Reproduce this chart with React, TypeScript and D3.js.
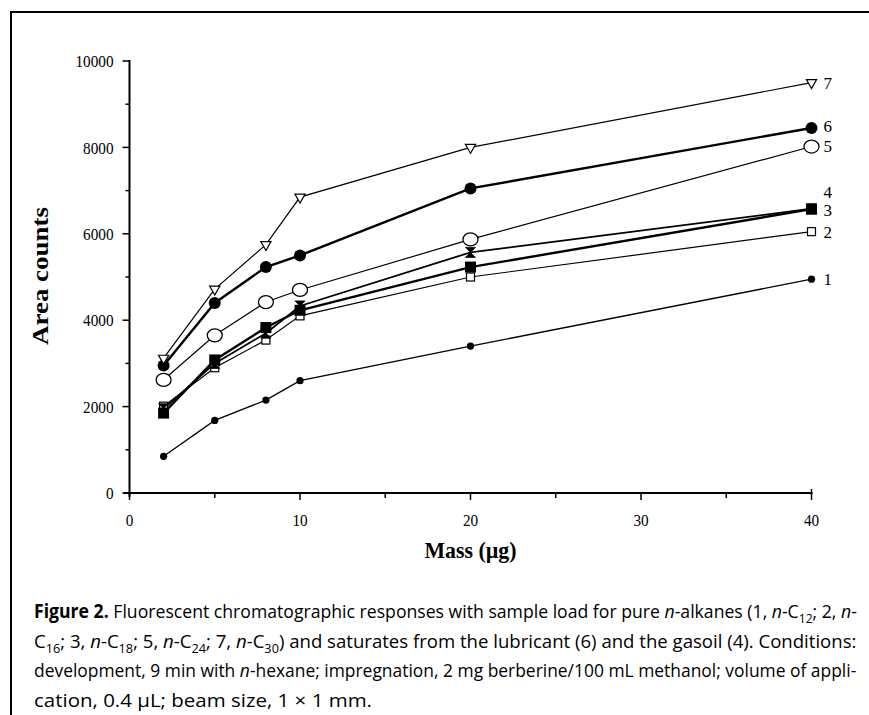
import { useLayoutEffect, useRef, useState } from "react";
import * as d3 from "d3";

// sample load (µg)
const masses = [2, 5, 8, 10, 20, 40];

// area counts per series
const c12 = [850, 1680, 2150, 2600, 3400, 4950];
const c16 = [2010, 2900, 3540, 4100, 5000, 6050];
const c18 = [1850, 3080, 3830, 4230, 5230, 6570];
const gasoil = [1950, 3000, 3700, 4330, 5570, 6580];
const c24 = [2620, 3650, 4420, 4700, 5870, 8020];
const lubricant = [2950, 4400, 5230, 5500, 7050, 8450];
const c30 = [3120, 4720, 5750, 6850, 8000, 9500];

const yTicks = [0, 2000, 4000, 6000, 8000, 10000];
const xTicks = [0, 10, 20, 30, 40];

const WIDTH = 869;
const HEIGHT = 715;
const SERIF = "'Liberation Serif', 'DejaVu Serif', serif";
const SANS = "'Open Sans', 'Noto Sans', sans-serif";

type Marker = "dot" | "circle" | "openCircle" | "square" | "openSquare" | "triangleDown" | "hourglass";

const series: { label: string; values: number[]; marker: Marker; width: number; labelDy: number }[] = [
  { label: "1", values: c12, marker: "dot", width: 1.3, labelDy: 0 },
  { label: "2", values: c16, marker: "openSquare", width: 1.2, labelDy: 0 },
  { label: "4", values: gasoil, marker: "hourglass", width: 1.8, labelDy: -17 },
  { label: "3", values: c18, marker: "square", width: 2.4, labelDy: 1 },
  { label: "5", values: c24, marker: "openCircle", width: 1.2, labelDy: 0 },
  { label: "6", values: lubricant, marker: "circle", width: 2.4, labelDy: -2 },
  { label: "7", values: c30, marker: "triangleDown", width: 1.2, labelDy: 0 },
];

// caption, segment by segment: b = bold, i = italic, s = subscript
type Seg = { t: string; b?: boolean; i?: boolean; s?: boolean };
const captionLines: { segs: Seg[]; len: number }[] = [
  {
    len: 823,
    segs: [
      { t: "Figure 2.", b: true },
      { t: " Fluorescent chromatographic responses with sample load for pure " },
      { t: "n", i: true },
      { t: "-alkanes (1, " },
      { t: "n", i: true },
      { t: "-C" },
      { t: "12", s: true },
      { t: "; 2, " },
      { t: "n", i: true },
      { t: "-" },
    ],
  },
  {
    len: 823,
    segs: [
      { t: "C" },
      { t: "16", s: true },
      { t: "; 3, " },
      { t: "n", i: true },
      { t: "-C" },
      { t: "18", s: true },
      { t: "; 5, " },
      { t: "n", i: true },
      { t: "-C" },
      { t: "24", s: true },
      { t: "; 7, " },
      { t: "n", i: true },
      { t: "-C" },
      { t: "30", s: true },
      { t: ") and saturates from the lubricant (6) and the gasoil (4). Conditions:" },
    ],
  },
  {
    len: 823,
    segs: [
      { t: "development, 9 min with " },
      { t: "n", i: true },
      { t: "-hexane; impregnation, 2 mg berberine/100 mL methanol; volume of appli-" },
    ],
  },
  { len: 338, segs: [{ t: "cation, 0.4 µL; beam size, 1 × 1 mm." }] },
];

const x = d3.scaleLinear().domain([0, 40]).range([129.5, 811.5]);
const y = d3.scaleLinear().domain([0, 10000]).range([493, 61]);

const MarkerShape = ({ kind, cx, cy }: { kind: Marker; cx: number; cy: number }) => {
  const t = `translate(${cx},${cy})`;
  switch (kind) {
    case "dot":
      return <circle cx={cx} cy={cy} r={3.6} fill="#000" />;
    case "circle":
      return <circle cx={cx} cy={cy} r={6} fill="#000" />;
    case "openCircle":
      return <ellipse cx={cx} cy={cy} rx={7.5} ry={6.5} fill="#fff" stroke="#000" strokeWidth={1.3} />;
    case "square":
      return <rect x={cx - 5.5} y={cy - 5.5} width={11} height={11} fill="#000" />;
    case "openSquare":
      return <rect x={cx - 4} y={cy - 4} width={8} height={8} fill="#fff" stroke="#000" strokeWidth={1.2} />;
    case "triangleDown":
      return (
        <path
          transform={`${t} rotate(180)`}
          d={d3.symbol(d3.symbolTriangle, 45)() ?? ""}
          fill="#fff"
          stroke="#000"
          strokeWidth={1.2}
        />
      );
    case "hourglass":
      return <path transform={t} d="M-5,-5 L5,-5 L-5,5 L5,5 Z" fill="#000" stroke="#000" strokeWidth={0.8} />;
  }
};

const line = d3
  .line<number>()
  .x((_, i) => x(masses[i]))
  .y((d) => y(d));

// one caption line, squeezed horizontally (by a measured scale) to the justified width
const CaptionLine = ({ segs, len, yPos }: { segs: Seg[]; len: number; yPos: number }) => {
  const ref = useRef<SVGTextElement>(null);
  const [sx, setSx] = useState(1);
  useLayoutEffect(() => {
    if (!ref.current) return;
    const natural = ref.current.getComputedTextLength();
    if (natural > 0) setSx(len / natural);
  }, [len]);

  let shifted = false;
  return (
    <text ref={ref} transform={`translate(34,${yPos}) scale(${sx},1)`}>
      {segs.map((sg, k) => {
        let dy = 0;
        if (sg.s && !shifted) {
          dy = 5;
          shifted = true;
        } else if (!sg.s && shifted) {
          dy = -5;
          shifted = false;
        }
        return (
          <tspan
            key={k}
            dy={dy || undefined}
            fontWeight={sg.b ? "bold" : undefined}
            fontStyle={sg.i ? "italic" : undefined}
            fontSize={sg.s ? 13 : undefined}
          >
            {sg.t}
          </tspan>
        );
      })}
    </text>
  );
};

export default function App() {
  const minorY = d3.range(1000, 10000, 2000);
  const minorX = [5, 15, 25, 35];

  return (
    <div style={{ position: "absolute", left: 0, top: 0 }}>
      <svg width={WIDTH} height={HEIGHT} style={{ display: "block", background: "#fff" }}>
        {/* frame */}
        <path d={`M11,${HEIGHT} L11,12 L${WIDTH},12`} fill="none" stroke="#000" strokeWidth={2} />

        {/* axes */}
        <line x1={x(0)} x2={x(0)} y1={y(10000) - 1} y2={y(0) + 4} stroke="#000" strokeWidth={2} />
        <line x1={x(0) - 6} x2={x(40) + 1} y1={y(0)} y2={y(0)} stroke="#000" strokeWidth={2} />
        {yTicks.map((t) => (
          <g key={t}>
            <line x1={x(0) - 7} x2={x(0)} y1={y(t)} y2={y(t)} stroke="#000" strokeWidth={1.5} />
            <text
              x={x(0) - 16}
              y={y(t)}
              dy="0.36em"
              textAnchor="end"
              fontFamily={SERIF}
              fontSize={17}
              textLength={String(t).length * 7.6}
              lengthAdjust="spacingAndGlyphs"
            >
              {t}
            </text>
          </g>
        ))}
        {minorY.map((t) => (
          <line key={t} x1={x(0) - 4} x2={x(0)} y1={y(t)} y2={y(t)} stroke="#000" strokeWidth={1.5} />
        ))}
        {xTicks.map((t) => (
          <g key={t}>
            <line x1={x(t)} x2={x(t)} y1={y(0) - (t === 40 ? 4 : 0)} y2={y(0) + 7} stroke="#000" strokeWidth={1.5} />
            <text
              x={x(t)}
              y={y(0) + 33}
              textAnchor="middle"
              fontFamily={SERIF}
              fontSize={17}
              textLength={String(t).length * 7.6}
              lengthAdjust="spacingAndGlyphs"
            >
              {t}
            </text>
          </g>
        ))}
        {minorX.map((t) => (
          <line key={t} x1={x(t)} x2={x(t)} y1={y(0)} y2={y(0) + 5} stroke="#000" strokeWidth={1.5} />
        ))}

        <text
          transform={`translate(48,${y(5000) - 1}) rotate(-90)`}
          textAnchor="middle"
          fontFamily={SERIF}
          fontWeight="bold"
          fontSize={24}
          textLength={138}
          lengthAdjust="spacingAndGlyphs"
        >
          Area counts
        </text>
        <text
          x={x(20)}
          y={558}
          textAnchor="middle"
          fontFamily={SERIF}
          fontWeight="bold"
          fontSize={23}
          textLength={92}
          lengthAdjust="spacingAndGlyphs"
        >
          Mass (µg)
        </text>

        {/* series lines */}
        {series.map((s) => (
          <path key={s.label} d={line(s.values) ?? ""} fill="none" stroke="#000" strokeWidth={s.width} />
        ))}
        {/* markers */}
        {series.map((s) =>
          s.values.map((v, i) => <MarkerShape key={`${s.label}-${i}`} kind={s.marker} cx={x(masses[i])} cy={y(v)} />)
        )}
        {/* end labels */}
        {series.map((s) => (
          <text
            key={`lab-${s.label}`}
            x={x(40) + 12}
            y={y(s.values[s.values.length - 1]) + s.labelDy}
            dy="0.35em"
            fontFamily={SERIF}
            fontSize={17}
          >
            {s.label}
          </text>
        ))}

        {/* caption */}
        <g fontFamily={SANS} fontSize={19}>
          {captionLines.map((l, k) => (
            <CaptionLine key={k} segs={l.segs} len={l.len} yPos={618 + k * 29.6} />
          ))}
        </g>
      </svg>
    </div>
  );
}
